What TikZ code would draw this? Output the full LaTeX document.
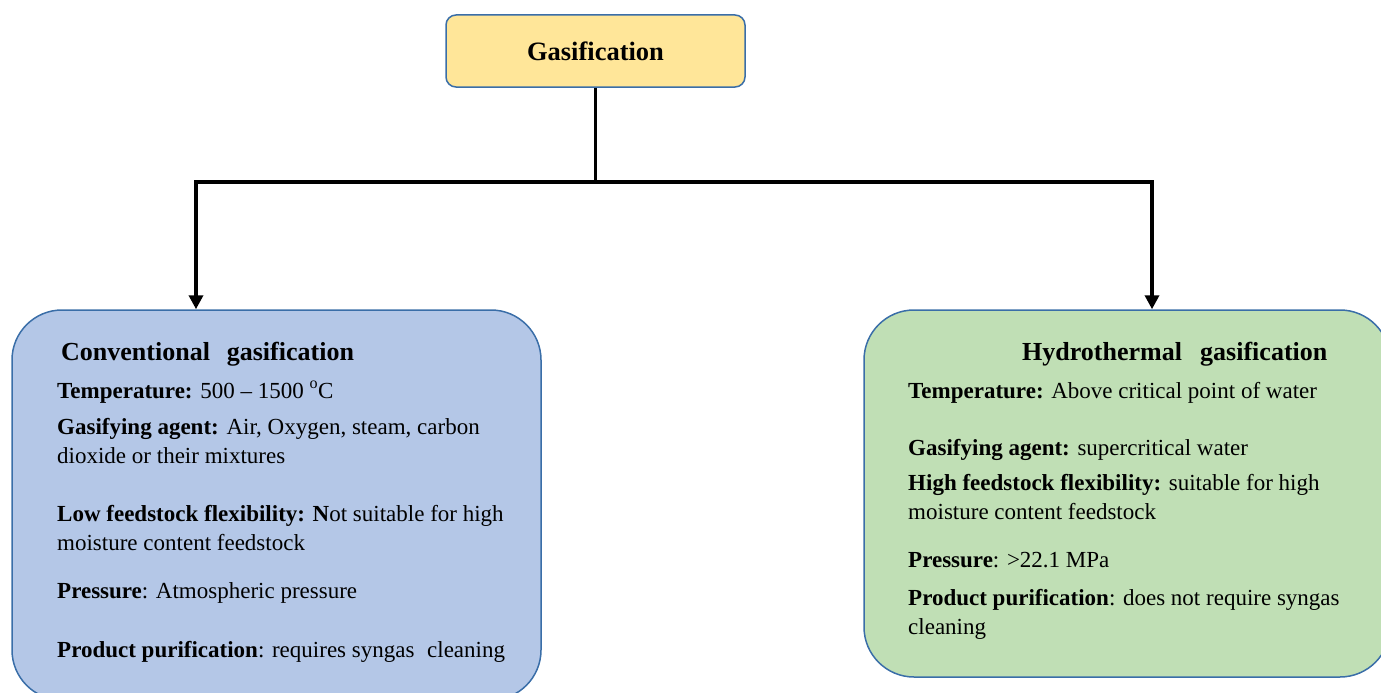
\documentclass[tikz,border=0pt]{standalone}
\usepackage{fontspec}
\setmainfont{Liberation Serif}
\usepackage{tikz}
\usetikzlibrary{arrows.meta}

\definecolor{topfill}{HTML}{FFE699}
\definecolor{convfill}{HTML}{B4C7E7}
\definecolor{hydrofill}{HTML}{C0DFB5}
\definecolor{boxline}{HTML}{3A6EA8}

\tikzset{
  rootbox/.style={draw=boxline, line width=1.5pt, fill=topfill, rounded corners=10pt,
    minimum width=299pt, minimum height=72pt, font=\fontsize{26.5}{30}\selectfont\bfseries},
  typebox/.style={draw=boxline, line width=1.5pt, rounded corners=50pt},
  boxhead/.style={anchor=base west, inner sep=0pt, font=\fontsize{26}{30}\selectfont\bfseries},
  boxitem/.style={anchor=base west, inner sep=0pt, align=left,
    font=\fontsize{23}{29}\selectfont},
  branch/.style={line width=3.5pt, black},
  down/.style={branch, -{Triangle[length=14pt,width=14pt]}}
}

\begin{document}
\begin{tikzpicture}[x=1pt,y=-1pt]

\useasboundingbox (0,0) rectangle (1381,693);
\clip (0,0) rectangle (1381,693);

% top of the tree
\node[rootbox] (gasif) at (595.5,51) {Gasification};

% the two kinds
\node[typebox, fill=convfill, minimum width=529pt, minimum height=390pt] (conv) at (276.5,505) {};
\node[typebox, fill=hydrofill, minimum width=526pt, minimum height=367pt] (hydro) at (1127,493.5) {};

% connectors
\coordinate (jl) at (196,182);
\coordinate (jr) at (1152,182);
\draw[branch] (gasif.south) -- (gasif.south |- jl);
\draw[branch, line cap=rect] (jl) -- (jr);
\draw[down] (jl) -- (jl |- conv.north);
\draw[down] (jr) -- (jr |- hydro.north);

% conventional gasification (base = last line)
\node[boxhead] (convhead) at (61,360) {Conventional\hspace{0.4em} gasification};
\node[boxitem] (convtemp) at (57,398) {\textbf{Temperature:} 500 -- 1500 \textsuperscript{o}C};
\node[boxitem] (convagent) at (57,463) {\textbf{Gasifying agent:} Air, Oxygen, steam, carbon\\dioxide or their mixtures};
\node[boxitem] (convflex) at (57,550) {\textbf{Low feedstock flexibility: N}ot suitable for high\\moisture content feedstock};
\node[boxitem] (convpress) at (57,598) {\textbf{Pressure}: Atmospheric pressure};
\node[boxitem] (convpur) at (57,657) {\textbf{Product purification}: requires syngas\hspace{0.3em} cleaning};

% hydrothermal gasification
\node[boxhead] (hydrohead) at (1022,360) {Hydrothermal\hspace{0.45em} gasification};
\node[boxitem] (hydrotemp) at (908,398) {\textbf{Temperature:} Above critical point of water};
\node[boxitem] (hydroagent) at (908,455) {\textbf{Gasifying agent:} supercritical water};
\node[boxitem] (hydroflex) at (908,519) {\textbf{High feedstock flexibility:} suitable for high\\moisture content feedstock};
\node[boxitem] (hydropress) at (908,567) {\textbf{Pressure}: >22.1 MPa};
\node[boxitem] (hydropur) at (908,634) {\textbf{Product purification}: does not require syngas\\cleaning};

\end{tikzpicture}
\end{document}
